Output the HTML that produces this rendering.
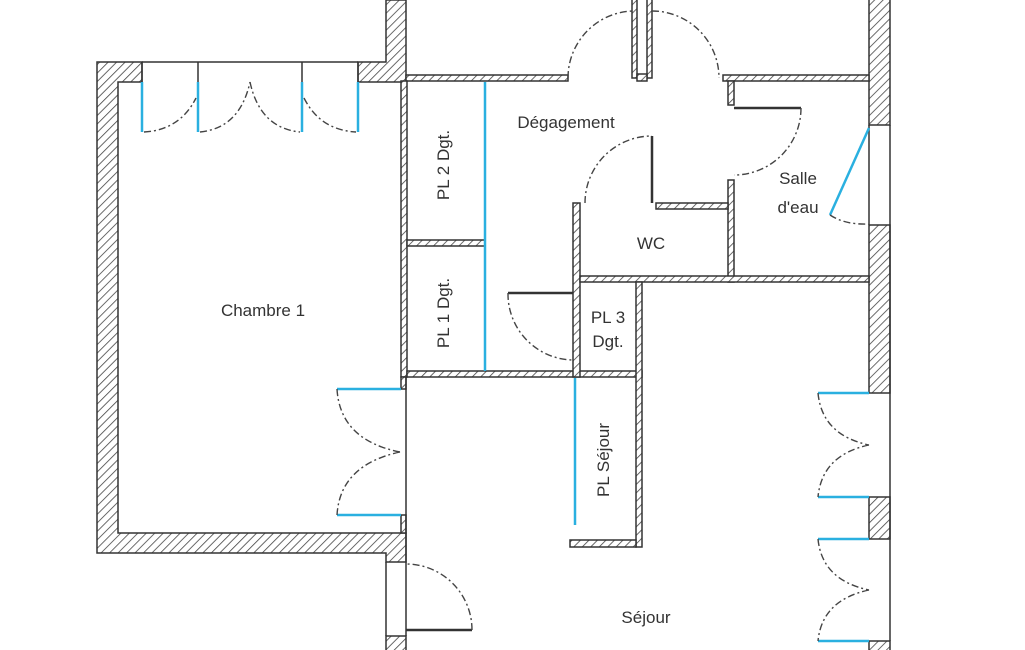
<!DOCTYPE html>
<html><head><meta charset="utf-8"><style>
html,body{margin:0;padding:0;background:#fff;}
svg{display:block;}
text{font-family:"Liberation Sans",sans-serif;font-size:17px;fill:#333;}
</style></head><body>
<svg width="1025" height="650" viewBox="0 0 1025 650" xmlns="http://www.w3.org/2000/svg">
<defs>
<pattern id="h" width="6" height="6" patternUnits="userSpaceOnUse" patternTransform="rotate(45)">
<rect width="6" height="6" fill="#fff"/><line x1="0" y1="0" x2="0" y2="6" stroke="#444" stroke-width="1.6"/>
</pattern>
</defs>
<g fill="url(#h)" stroke="#333" stroke-width="1.5">
<path d="M97,62 H142 V82 H118 V533 H406 V562 H386 V553 H97 Z"/>
<path d="M358,62 H386 V0 H406 V82 H358 Z"/>
<rect x="386" y="636" width="20" height="16"/>
<rect x="869" y="-2" width="21" height="127"/>
<rect x="869" y="225" width="21" height="168"/>
<rect x="869" y="497" width="21" height="42"/>
<rect x="869" y="641" width="21" height="12"/>
<rect x="406" y="75" width="162" height="6"/>
<rect x="632" y="-2" width="5" height="80"/>
<rect x="647" y="-2" width="5" height="80"/>
<rect x="637" y="74" width="10" height="7"/>
<rect x="723" y="75" width="146" height="6"/>
<rect x="401" y="81" width="6" height="296"/>
<rect x="401" y="377" width="5" height="12"/>
<rect x="401" y="515" width="5" height="18"/>
<rect x="407" y="240" width="78" height="6"/>
<rect x="407" y="371" width="235" height="6"/>
<rect x="728" y="81" width="6" height="24"/>
<rect x="728" y="180" width="6" height="102"/>
<rect x="656" y="203" width="72" height="6"/>
<rect x="573" y="203" width="7" height="174"/>
<rect x="580" y="276" width="289" height="6"/>
<rect x="636" y="282" width="6" height="265"/>
<rect x="570" y="540" width="66" height="7"/>
</g>
<g stroke="#333" stroke-width="1.5" fill="none">
<line x1="142" y1="62" x2="358" y2="62"/>
<line x1="142" y1="62" x2="142" y2="82"/><line x1="198" y1="62" x2="198" y2="82"/>
<line x1="302" y1="62" x2="302" y2="82"/><line x1="358" y1="62" x2="358" y2="82"/>
<line x1="406" y1="377" x2="406" y2="636"/>
<line x1="386" y1="562" x2="386" y2="636"/>
<line x1="890" y1="125" x2="890" y2="641"/>
<line x1="869" y1="125" x2="869" y2="225"/>
<line x1="652" y1="136" x2="652" y2="203" stroke-width="2.5"/>
<line x1="734" y1="108" x2="801" y2="108" stroke-width="2.5"/>
<line x1="508" y1="293" x2="573" y2="293" stroke-width="2.5"/>
<line x1="406" y1="630" x2="472" y2="630" stroke-width="2.5"/>
</g>
<g stroke="#2ab0e0" stroke-width="2.5" fill="none">
<line x1="142" y1="82" x2="142" y2="132"/><line x1="198" y1="82" x2="198" y2="132"/>
<line x1="302" y1="82" x2="302" y2="132"/><line x1="358" y1="82" x2="358" y2="132"/>
<line x1="485" y1="82" x2="485" y2="371"/>
<line x1="575" y1="378" x2="575" y2="525"/>
<line x1="869" y1="128" x2="830" y2="215"/>
<line x1="337" y1="389" x2="401" y2="389"/><line x1="337" y1="515" x2="401" y2="515"/>
<line x1="818" y1="393" x2="869" y2="393"/><line x1="818" y1="497" x2="869" y2="497"/>
<line x1="818" y1="539" x2="869" y2="539"/><line x1="818" y1="641" x2="869" y2="641"/>
</g>
<g stroke="#444" stroke-width="1.4" fill="none" stroke-dasharray="7,3,2,3">
<path d="M144,132 Q180,130 196,98"/>
<path d="M200,132 Q240,128 250,82"/>
<path d="M250,82 Q260,128 300,132"/>
<path d="M304,98 Q320,130 356,132"/>
<path d="M568,78 A67,67 0 0 1 632,11"/>
<path d="M652,11 A67,67 0 0 1 719,78"/>
<path d="M585,203 A67,67 0 0 1 652,136"/>
<path d="M801,108 A67,67 0 0 1 734,175"/>
<path d="M830,215 Q845,225 869,224"/>
<path d="M508,293 A66,66 0 0 0 573,360"/>
<path d="M337,389 Q340,440 400,452"/>
<path d="M400,452 Q340,465 337,515"/>
<path d="M818,393 Q822,435 869,445"/>
<path d="M869,445 Q822,455 818,497"/>
<path d="M818,539 Q822,580 869,590"/>
<path d="M869,590 Q822,600 818,641"/>
<path d="M472,630 A66,66 0 0 0 406,564"/>
</g>
<text x="263" y="316" text-anchor="middle">Chambre 1</text>
<text x="566" y="128" text-anchor="middle">Dégagement</text>
<text x="651" y="249" text-anchor="middle">WC</text>
<text x="798" y="184" text-anchor="middle">Salle</text>
<text x="798" y="213" text-anchor="middle">d'eau</text>
<text x="608" y="323" text-anchor="middle">PL 3</text>
<text x="608" y="347" text-anchor="middle">Dgt.</text>
<text x="646" y="623" text-anchor="middle">Séjour</text>
<text transform="translate(449,165) rotate(-90)" text-anchor="middle">PL 2 Dgt.</text>
<text transform="translate(449,313) rotate(-90)" text-anchor="middle">PL 1 Dgt.</text>
<text transform="translate(609,460) rotate(-90)" text-anchor="middle">PL Séjour</text>
</svg>
</body></html>
